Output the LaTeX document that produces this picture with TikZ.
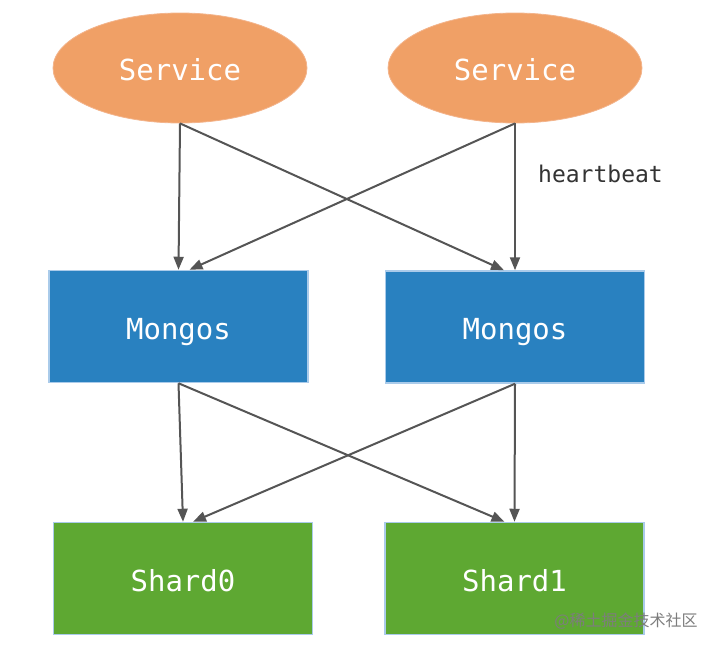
\documentclass[tikz,border=0pt]{standalone}
\usepackage{fontspec}
\newfontfamily\monofont{DejaVu Sans Mono}
\newfontfamily\cjk{Noto Sans CJK SC}
\usetikzlibrary{arrows.meta,shapes.geometric,calc}
\definecolor{svcfill}{RGB}{240,160,102}
\definecolor{svcedge}{RGB}{243,180,140}
\definecolor{mgfill}{RGB}{41,129,192}
\definecolor{shfill}{RGB}{94,168,50}
\definecolor{boxedge}{RGB}{170,203,234}
\definecolor{arrowcol}{RGB}{85,85,85}
\definecolor{labelcol}{RGB}{51,51,51}
\definecolor{wmcol}{RGB}{125,125,125}
\tikzset{
  svc/.style={ellipse, fill=svcfill, draw=svcedge, line width=0.8pt,
    minimum width=254pt, minimum height=110pt, inner sep=0pt,
    text=white, font=\monofont\fontsize{29}{30}\selectfont,
    text height=25pt, text depth=0pt},
  mgbox/.style={rectangle, fill=mgfill, draw=boxedge, line width=1.5pt,
    minimum width=259pt, minimum height=112pt, inner sep=0pt,
    text=white, font=\monofont\fontsize{29}{30}\selectfont,
    text height=25pt, text depth=0pt},
  shbox/.style={mgbox, fill=shfill},
  conn/.style={draw=arrowcol, line width=2pt,
    -{Triangle[length=13pt,width=10pt]}},
}
\begin{document}
\begin{tikzpicture}[x=1pt,y=-1pt]
\useasboundingbox (0,0) rectangle (712,648);
\node[svc] (e1) at (180,68) {Service};
\node[svc] (e2) at (515,68) {Service};
\node[mgbox] (m1) at (178.5,326.5) {Mongos};
\node[mgbox] (m2) at (515,327) {Mongos};
\node[shbox] (s0) at (183,578.5) {Shard0};
\node[shbox] (s1) at (514.5,578.5) {Shard1};
\node[anchor=base west, inner sep=0pt, text=labelcol,
  font=\monofont\fontsize{23}{24}\selectfont] (hb) at (538,182) {heartbeat};
\draw[conn] (e1.south) -- (m1.north);
\draw[conn] (e1.south) -- ($(m2.north)+(-11,0)$);
\draw[conn] (e2.south) -- (m2.north);
\draw[conn] (e2.south) -- ($(m1.north)+(11,0)$);
\draw[conn] (m1.south) -- (s0.north);
\draw[conn] (m1.south) -- ($(s1.north)+(-10,0)$);
\draw[conn] (m2.south) -- (s1.north);
\draw[conn] (m2.south) -- ($(s0.north)+(10,0)$);
\node[inner sep=0pt, text=wmcol, font=\cjk\fontsize{16}{17}\selectfont] (wm) at (626,621) {@稀土掘金技术社区};
\end{tikzpicture}
\end{document}
